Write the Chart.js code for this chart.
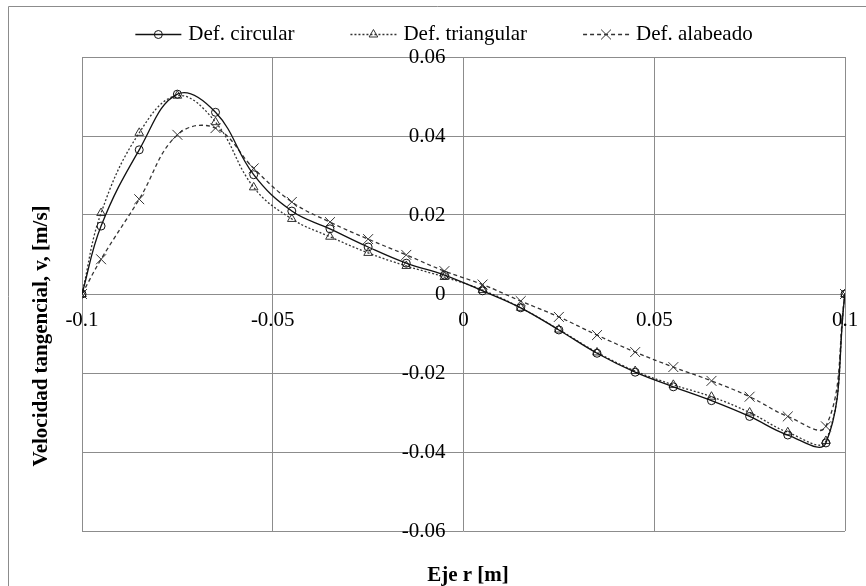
<!DOCTYPE html>
<html>
<head>
<meta charset="utf-8">
<script src="https://cdn.jsdelivr.net/npm/chart.js@4.4.0/dist/chart.umd.min.js"></script>
<style>
  body { margin: 0; background: #fff; }
  canvas { display: block; }
</style>
</head>
<body>
<canvas id="velChart" width="866" height="586"></canvas>
<script>
// posiciones radiales [m]
const radio = [-0.1, -0.095, -0.085, -0.075, -0.065, -0.055, -0.045, -0.035, -0.025, -0.015, -0.005,
               0.005, 0.015, 0.025, 0.035, 0.045, 0.055, 0.065, 0.075, 0.085, 0.095, 0.1];

// velocidad tangencial [m/s] para cada deformador
const velCircular = [0, 0.0172, 0.0365, 0.0506, 0.046, 0.0302, 0.021, 0.0165, 0.0119, 0.0078, 0.0048,
                     0.0008, -0.0035, -0.0091, -0.015, -0.0198, -0.0235, -0.027, -0.031, -0.0357, -0.0377, 0];
const velTriangular = [0, 0.0205, 0.0408, 0.0502, 0.0435, 0.027, 0.019, 0.0145, 0.0104, 0.0071, 0.0043,
                       0.001, -0.0035, -0.009, -0.0148, -0.0195, -0.023, -0.026, -0.030, -0.035, -0.0372, 0];
const velAlabeado = [0, 0.0088, 0.024, 0.0403, 0.042, 0.0318, 0.0233, 0.0182, 0.0139, 0.0099, 0.0058,
                     0.0024, -0.0018, -0.0058, -0.0104, -0.0147, -0.0185, -0.022, -0.026, -0.031, -0.0335, 0];

const xTicks = [-0.1, -0.05, 0, 0.05, 0.1];
const yTicks = [0.06, 0.04, 0.02, 0, -0.02, -0.04, -0.06];

const serif = '"Liberation Serif", "Times New Roman", serif';
const gridColor = '#8c8c8c';

function toPoints(ys) {
    return radio.map((x, i) => ({ x: x, y: ys[i] }));
}

function serie(label, ys, color, dash, style, radius) {
    return {
        label: label,
        data: toPoints(ys),
        borderColor: color,
        borderWidth: 1.3,
        borderDash: dash,
        tension: 0.4,
        fill: false,
        pointStyle: style,
        pointRadius: radius,
        pointBorderColor: color,
        pointBorderWidth: 1,
        pointBackgroundColor: 'rgba(255,255,255,0)'
    };
}

// marcador para la leyenda
function drawMarker(ctx, style, x, y, r) {
    ctx.beginPath();
    if (style === 'circle') {
        ctx.arc(x, y, r, 0, Math.PI * 2);
    } else if (style === 'triangle') {
        ctx.moveTo(x, y - r);
        ctx.lineTo(x + r * 0.866, y + r * 0.5);
        ctx.lineTo(x - r * 0.866, y + r * 0.5);
        ctx.closePath();
    } else {
        const d = r * 0.707;
        ctx.moveTo(x - d, y - d); ctx.lineTo(x + d, y + d);
        ctx.moveTo(x + d, y - d); ctx.lineTo(x - d, y + d);
    }
    ctx.stroke();
}

const legendaPlugin = {
    id: 'leyenda',
    afterDraw(chart) {
        const ctx = chart.ctx;
        const sets = chart.data.datasets;
        const sample = 46, gap = 7, spacing = 56, cy = 34, center = 444;
        ctx.save();
        ctx.font = '21px ' + serif;
        const widths = sets.map(ds => sample + gap + ctx.measureText(ds.label).width);
        const total = widths.reduce((a, b) => a + b, 0) + spacing * (sets.length - 1);
        let x = center - total / 2;
        sets.forEach((ds, i) => {
            ctx.strokeStyle = ds.borderColor;
            ctx.lineWidth = ds.borderWidth;
            ctx.setLineDash(ds.borderDash || []);
            ctx.beginPath();
            ctx.moveTo(x, cy + 0.5);
            ctx.lineTo(x + sample, cy + 0.5);
            ctx.stroke();
            ctx.setLineDash([]);
            ctx.lineWidth = 1;
            drawMarker(ctx, ds.pointStyle, x + sample / 2, cy + 0.5, ds.pointRadius);
            ctx.fillStyle = '#000';
            ctx.textAlign = 'left';
            ctx.textBaseline = 'middle';
            ctx.fillText(ds.label, x + sample + gap, cy);
            x += widths[i] + spacing;
        });
        ctx.restore();
    }
};

// marco exterior, etiquetas sobre los ejes centrales y titulos
const ejesPlugin = {
    id: 'ejes',
    beforeDraw(chart) {
        const ctx = chart.ctx;
        ctx.save();
        ctx.fillStyle = '#fff';
        ctx.fillRect(0, 0, chart.width, chart.height);
        ctx.strokeStyle = gridColor;
        ctx.lineWidth = 1;
        ctx.beginPath();
        ctx.moveTo(8.5, chart.height);
        ctx.lineTo(8.5, 6.5);
        ctx.lineTo(chart.width, 6.5);
        ctx.stroke();
        ctx.restore();
    },
    afterDraw(chart) {
        const ctx = chart.ctx;
        const xs = chart.scales.x, ys = chart.scales.y;
        const x0 = xs.getPixelForValue(0), y0 = ys.getPixelForValue(0);
        ctx.save();
        ctx.fillStyle = '#000';
        ctx.font = '21px ' + serif;
        ctx.textBaseline = 'middle';
        ctx.textAlign = 'right';
        yTicks.forEach(v => ctx.fillText(String(v), x0 - 18, ys.getPixelForValue(v)));
        ctx.textAlign = 'center';
        xTicks.forEach(v => ctx.fillText(String(v), xs.getPixelForValue(v), y0 + 26));

        ctx.font = 'bold 21px ' + serif;
        ctx.fillText('Eje r [m]', 468, 576);
        ctx.translate(42, 336);
        ctx.rotate(-Math.PI / 2);
        ctx.fillText('Velocidad tangencial, v, [m/s]', 0, 0);
        ctx.restore();
    }
};

const chart = new Chart(document.getElementById('velChart'), {
    type: 'line',
    data: {
        datasets: [
            serie('Def. circular', velCircular, '#111', [], 'circle', 4),
            serie('Def. triangular', velTriangular, '#333', [2, 2], 'triangle', 5),
            serie('Def. alabeado', velAlabeado, '#333', [4, 3], 'crossRot', 7)
        ]
    },
    options: {
        responsive: false,
        animation: false,
        layout: { padding: { left: 82, right: 21, top: 57, bottom: 55 } },
        plugins: {
            legend: { display: false },
            tooltip: { enabled: false }
        },
        scales: {
            x: {
                type: 'linear',
                min: -0.1,
                max: 0.1,
                afterBuildTicks: (s) => { s.ticks = xTicks.map(v => ({ value: v })); },
                afterFit: (s) => { s.height = 0; },
                ticks: { display: false },
                grid: { color: gridColor, lineWidth: 1, drawTicks: false },
                border: { display: false }
            },
            y: {
                type: 'linear',
                min: -0.06,
                max: 0.06,
                afterBuildTicks: (s) => { s.ticks = yTicks.map(v => ({ value: v })); },
                afterFit: (s) => { s.width = 0; },
                ticks: { display: false },
                grid: { color: gridColor, lineWidth: 1, drawTicks: false },
                border: { display: false }
            }
        }
    },
    plugins: [ejesPlugin, legendaPlugin]
});
</script>
</body>
</html>
